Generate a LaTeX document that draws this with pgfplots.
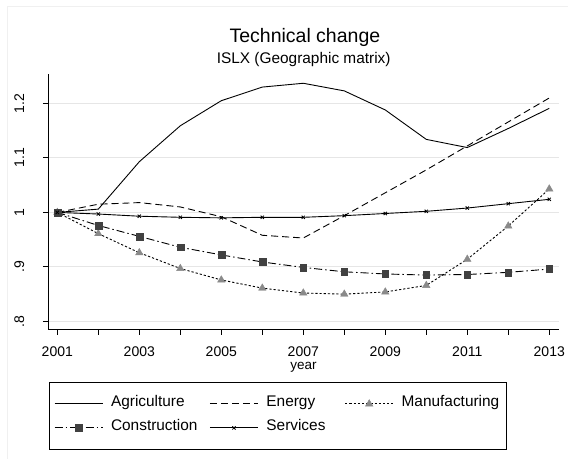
\documentclass[border=0pt]{standalone}
\usepackage{fontspec}
\setmainfont{Liberation Sans}
\usepackage{pgfplots}
\pgfplotsset{compat=1.18}
\usepackage{pgfplotstable}

% Technical change index by sector (2001 = 1)
\pgfplotstableread{
year  agr    ene    man    con    ser
2001  1.000  1.000  1.000  1.000  1.000
2002  1.006  1.015  0.961  0.976  0.997
2003  1.093  1.018  0.926  0.956  0.993
2004  1.159  1.010  0.897  0.936  0.991
2005  1.205  0.992  0.876  0.922  0.990
2006  1.230  0.958  0.861  0.909  0.991
2007  1.237  0.953  0.852  0.899  0.991
2008  1.223  0.994  0.850  0.891  0.994
2009  1.188  1.036  0.854  0.887  0.998
2010  1.134  1.078  0.866  0.885  1.002
2011  1.119  1.122  0.914  0.886  1.008
2012  1.154  1.166  0.975  0.890  1.016
2013  1.191  1.210  1.043  0.896  1.024
}\sectors

\definecolor{gridgray}{HTML}{E6E6E6}
\definecolor{mangray}{HTML}{8A8A8A}
\definecolor{condark}{HTML}{414141}
\definecolor{framegray}{HTML}{F0F0F0}

\begin{document}
\begin{tikzpicture}
\useasboundingbox (0pt,0pt) rectangle (568pt,459pt);
\fill[white] (0pt,0pt) rectangle (568pt,459pt);
\draw[framegray, line width=0.8pt] (7pt,0pt) -- (7pt,453pt) -- (568pt,453pt);

\node[anchor=base, font=\fontsize{19.5}{22}\selectfont] at (304.9pt,416.3pt) {Technical change};
\node[anchor=base, font=\fontsize{15.4}{18}\selectfont] at (303.7pt,395pt) {ISLX (Geographic matrix)};

\begin{axis}[
  at={(48.3pt,130pt)}, anchor=south west,
  scale only axis, width=510.4pt, height=255pt,
  xmin=2000.78, xmax=2013.23, ymin=0.786, ymax=1.254,
  axis x line*=bottom, axis y line*=left,
  axis line style={line width=0.9pt, -},
  xtick={2001,2003,...,2013},
  xticklabels={2001,2003,2005,2007,2009,2011,2013},
  minor xtick={2002,2004,...,2012},
  ytick={0.8,0.9,1,1.1,1.2},
  yticklabels={.8,.9,1,1.1,1.2},
  tick align=outside,
  major tick length=5.5pt, minor tick length=5.5pt,
  every tick/.style={black, line width=0.9pt},
  ymajorgrids,
  major grid style={gridgray, line width=1.1pt},
  /pgf/number format/assume math mode=true,
  tick label style={font=\fontsize{14}{16}\selectfont},
  xticklabel style={anchor=base, yshift=-22.2pt},
  yticklabel style={xshift=-18.8pt, rotate=90, anchor=base},
  xlabel={year},
  xlabel style={at={(axis description cs:0.5,0)}, anchor=base, yshift=-40.5pt,
                font=\fontsize{13.5}{16}\selectfont},
  legend columns=3,
  legend cell align=left,
  legend image code/.code={%
    \draw[mark repeat=2,mark phase=2,#1]
      plot coordinates {(0pt,0pt) (24pt,0pt) (48pt,0pt)};},
  legend style={
    at={(axis description cs:0.0014,-0.2078)}, anchor=north west,
    draw=black, line width=0.9pt,
    font=\fontsize{15.4}{18}\selectfont,
    inner xsep=4.7pt, inner ysep=13.3pt,
    row sep=7.6pt,
    nodes={inner xsep=2pt, inner ysep=2pt, text height=8.4pt, text depth=4pt},
    /tikz/column 1/.style={column sep=6pt},
    /tikz/column 2/.style={column sep=10pt},
    /tikz/column 3/.style={column sep=6pt},
    /tikz/column 4/.style={column sep=17.3pt},
    /tikz/column 5/.style={column sep=6pt},
  },
]
\addplot[black, line width=0.9pt] table[x=year, y=agr] {\sectors};
\addlegendentry{Agriculture}
\addplot[black, line width=0.9pt, dash pattern=on 7pt off 4pt] table[x=year, y=ene] {\sectors};
\addlegendentry{Energy}
\addplot[black, line width=0.9pt, dash pattern=on 2.2pt off 2pt,
  mark=triangle*, mark size=4.3pt,
  mark options={solid, fill=mangray, draw=mangray, line width=0.4pt}] table[x=year, y=man] {\sectors};
\addlegendentry{Manufacturing}
\addplot[black, line width=0.9pt, dash pattern=on 8pt off 3pt on 1.5pt off 3pt,
  mark=square*, mark size=3.4pt,
  mark options={solid, fill=condark, draw=condark, line width=0.4pt}] table[x=year, y=con] {\sectors};
\addlegendentry{Construction}
\addplot[black, line width=0.9pt,
  mark=x, mark size=2.3pt,
  mark options={solid, black, line width=0.8pt}] table[x=year, y=ser] {\sectors};
\addlegendentry{Services}
\end{axis}
\end{tikzpicture}
\end{document}
